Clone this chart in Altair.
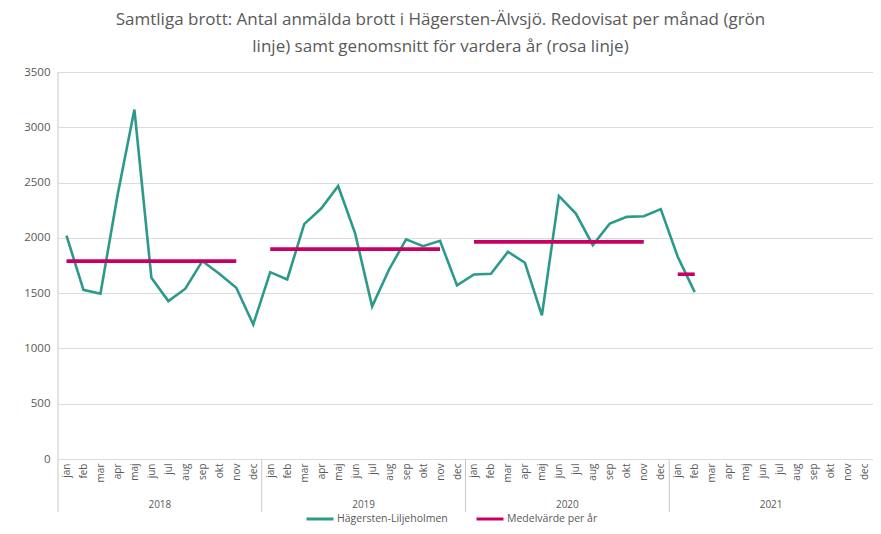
import json
import altair as alt
import pandas as pd

# ---- data ----
months = ["jan", "feb", "mar", "apr", "maj", "jun", "jul", "aug", "sep", "okt", "nov", "dec"]
years = ["2018", "2019", "2020", "2021"]

values_2018 = [2020, 1530, 1495, 2380, 3160, 1640, 1428, 1540, 1790, 1675, 1549, 1217]
values_2019 = [1690, 1624, 2124, 2265, 2469, 2040, 1380, 1714, 1986, 1925, 1973, 1570]
values_2020 = [1669, 1675, 1874, 1775, 1299, 2379, 2220, 1934, 2130, 2190, 2196, 2260]
values_2021 = [1829, 1509]

means = [1790, 1898, 1964, 1671]
mean_last_month = [10, 10, 10, 1]   # index of the month where each year's mean line ends

series_names = ["Hägersten-Liljeholmen", "Medelvärde per år"]
series_colors = ["#2b9a8b", "#c80064"]

# ---- build tables ----
all_values = [values_2018, values_2019, values_2020, values_2021]
rows = []
for yi, vals in enumerate(all_values):
    for mi, v in enumerate(vals):
        rows.append({"idx": yi * 12 + mi, "value": v, "year": years[yi], "series": series_names[0]})
monthly = pd.DataFrame(rows)

mrows = []
for yi, m in enumerate(means):
    for mi in (0, mean_last_month[yi]):
        mrows.append({"idx": yi * 12 + mi, "value": m, "year": years[yi], "series": series_names[1]})
mean_df = pd.DataFrame(mrows)

year_df = pd.DataFrame({"idx": [yi * 12 + 5.5 for yi in range(len(years))], "year": years})
sep_df = pd.DataFrame({"idx": [11.5, 23.5, 35.5]})
left_df = pd.DataFrame({"idx": [-0.5]})

W, H = 815, 387
TEXT = "#595959"
FONT = "Open Sans"

x_scale = alt.Scale(domain=[-0.5, 47.5], nice=False, zero=False)
y_scale = alt.Scale(domain=[0, 3500], nice=False)
color_scale = alt.Scale(domain=series_names, range=series_colors)

label_expr = json.dumps(months) + "[datum.value % 12]"

x_axis = alt.Axis(values=list(range(48)), labelExpr=label_expr, labelAngle=-90,
                  grid=False, ticks=False, domain=False, title=None,
                  labelFontSize=10, labelColor=TEXT, labelPadding=4,
                  labelOverlap=False, labelFlush=False, labelBound=False, labelFont=FONT)
y_axis = alt.Axis(values=list(range(0, 3501, 500)), format="d", grid=True, gridColor="#dcdcdc",
                  domain=False, ticks=False, title=None, labelFontSize=11.5,
                  labelColor=TEXT, labelPadding=8, labelFont=FONT)


def X():
    return alt.X("idx:Q", scale=x_scale, axis=x_axis)


def Y():
    return alt.Y("value:Q", scale=y_scale, axis=y_axis)


base_line = alt.Chart(monthly).mark_line(strokeWidth=2.6, strokeJoin="miter").encode(
    x=X(), y=Y(),
    color=alt.Color("series:N", scale=color_scale, title=None),
)

mean_line = alt.Chart(mean_df).mark_line(strokeWidth=3.6, strokeCap="butt").encode(
    x=X(), y=Y(),
    color=alt.Color("series:N", scale=color_scale, title=None),
    detail="year:N",
)

left_rule = alt.Chart(left_df).mark_rule(color="#c8c8c8", strokeWidth=1).encode(
    x=X(),
    y=alt.value(0),
    y2=alt.value(H + 53),
)

sep_rules = alt.Chart(sep_df).mark_rule(color="#c8c8c8", strokeWidth=1).encode(
    x=X(),
    y=alt.value(H),
    y2=alt.value(H + 53),
)

year_text = alt.Chart(year_df).mark_text(fontSize=10, color=TEXT, font=FONT, baseline="middle").encode(
    x=X(),
    y=alt.value(H + 46),
    text="year:N",
)

chart = alt.layer(base_line, mean_line, left_rule, sep_rules, year_text).properties(
    width=W,
    height=H,
    autosize=alt.AutoSizeParams(type="none"),
    padding={"left": 50, "top": 64, "right": 0, "bottom": 67},
    title=alt.TitleParams(
        text=["Samtliga brott: Antal anmälda brott i Hägersten-Älvsjö. Redovisat per månad (grön",
              "linje) samt genomsnitt för vardera år (rosa linje)"],
        anchor="middle", fontSize=17, font=FONT, fontWeight="normal", color=TEXT,
        lineHeight=27, offset=10, dx=-25,
    ),
).configure_view(stroke=None).configure_legend(
    orient="none", legendX=247, legendY=432, direction="horizontal",
    symbolType="stroke", symbolStrokeWidth=3, symbolSize=729,
    labelFontSize=10.5, labelColor=TEXT, labelFont=FONT, labelOffset=2,
    columnPadding=22, padding=0, title=None,
)

chart.save("out.html", embed_options={"renderer": "svg", "actions": False})
